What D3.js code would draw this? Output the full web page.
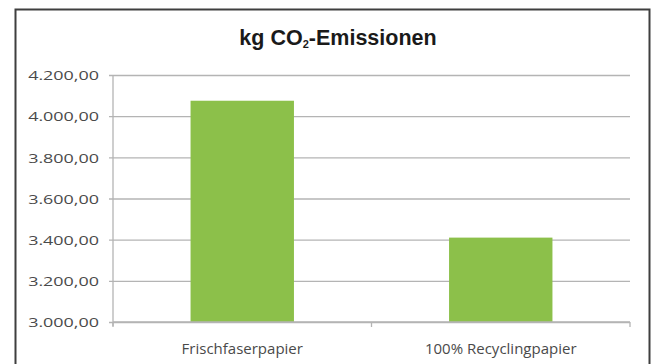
<!DOCTYPE html>
<html>
<head>
<meta charset="utf-8">
<script src="https://cdn.jsdelivr.net/npm/d3@7"></script>
<style>
  html, body { margin: 0; padding: 0; background: #fff; }
  svg { display: block; }
</style>
</head>
<body>
<svg id="chart" width="651" height="364"></svg>
<script>
// Chart data
const categories = ["Frischfaserpapier", "100% Recyclingpapier"];
const emissions = [4075, 3410];
const yTicks = [3000, 3200, 3400, 3600, 3800, 4000, 4200];

const svg = d3.select("#chart");

// Outer chart frame
svg.append("rect")
  .attr("x", 15.5).attr("y", 9.5)
  .attr("width", 634).attr("height", 360)
  .attr("fill", "#fff")
  .attr("stroke", "#3f3f3f")
  .attr("stroke-width", 2);

const plot = { left: 113, right: 630, top: 75, bottom: 322 };

const x = d3.scaleBand()
  .domain(categories)
  .range([plot.left, plot.right])
  .paddingInner(0.6)
  .paddingOuter(0.3);

const xBounds = d3.scaleBand()
  .domain(categories)
  .range([plot.left, plot.right])
  .padding(0);

const y = d3.scaleLinear()
  .domain([3000, 4200])
  .range([plot.bottom, plot.top]);

// German number format: 4.200,00
const fmt = v => d3.format(",.2f")(v).replace(/,/g, "#").replace(".", ",").replace(/#/g, ".");

// Horizontal gridlines with tick labels
const yAxis = d3.axisLeft(y)
  .tickValues(yTicks)
  .tickSize(-(plot.right - plot.left))
  .tickSizeOuter(0)
  .tickPadding(14)
  .tickFormat(fmt);

const gy = svg.append("g")
  .attr("transform", `translate(${plot.left},0)`)
  .call(yAxis);
gy.select(".domain").remove();
gy.selectAll(".tick line")
  .attr("x1", -4)
  .attr("stroke", "#b4b4b4")
  .attr("stroke-width", 1.3);
// Wide, low tick labels: stretched horizontally
const labelStretch = 1.38;
gy.selectAll(".tick text")
  .attr("fill", "#4a4a4a")
  .attr("x", -14 / labelStretch)
  .attr("dy", "0.36em")
  .attr("transform", `scale(${labelStretch},1)`)
  .style("font-family", "'Open Sans', sans-serif")
  .style("font-size", "13px");

// Vertical value axis line
svg.append("line")
  .attr("x1", plot.left).attr("x2", plot.left)
  .attr("y1", plot.top).attr("y2", plot.bottom + 4)
  .attr("stroke", "#b4b4b4").attr("stroke-width", 1.3);

// Bars
svg.append("g").selectAll("rect")
  .data(categories)
  .join("rect")
  .attr("x", d => x(d))
  .attr("width", x.bandwidth())
  .attr("y", (d, i) => y(emissions[i]))
  .attr("height", (d, i) => y(3000) - y(emissions[i]))
  .attr("fill", "#8cc04a");

// Category axis with tick marks at band boundaries
const boundaries = [plot.left].concat(categories.map(c => xBounds(c) + xBounds.bandwidth()));
svg.append("line")
  .attr("x1", plot.left).attr("x2", plot.right)
  .attr("y1", plot.bottom).attr("y2", plot.bottom)
  .attr("stroke", "#b4b4b4").attr("stroke-width", 1.3);
svg.append("g").selectAll("line")
  .data(boundaries)
  .join("line")
  .attr("x1", d => d).attr("x2", d => d)
  .attr("y1", plot.bottom).attr("y2", plot.bottom + 5)
  .attr("stroke", "#b4b4b4").attr("stroke-width", 1.3);

svg.append("g").selectAll("text")
  .data(categories)
  .join("text")
  .attr("x", d => x(d) + x.bandwidth() / 2)
  .attr("y", 354)
  .attr("text-anchor", "middle")
  .attr("fill", "#4a4a4a")
  .style("font-family", "'Open Sans', sans-serif")
  .style("font-size", "15px")
  .text(d => d);

// Title with subscript
const title = svg.append("text")
  .attr("x", 338)
  .attr("y", 45)
  .attr("text-anchor", "middle")
  .attr("fill", "#1a1a1a")
  .style("font-family", "'Liberation Sans', Arial, sans-serif")
  .style("font-weight", "bold")
  .style("font-size", "21.5px");
title.append("tspan").text("kg CO");
title.append("tspan").attr("dy", 3).style("font-size", "11px").text("2");
title.append("tspan").attr("dy", -3).text("-Emissionen");
</script>
</body>
</html>
